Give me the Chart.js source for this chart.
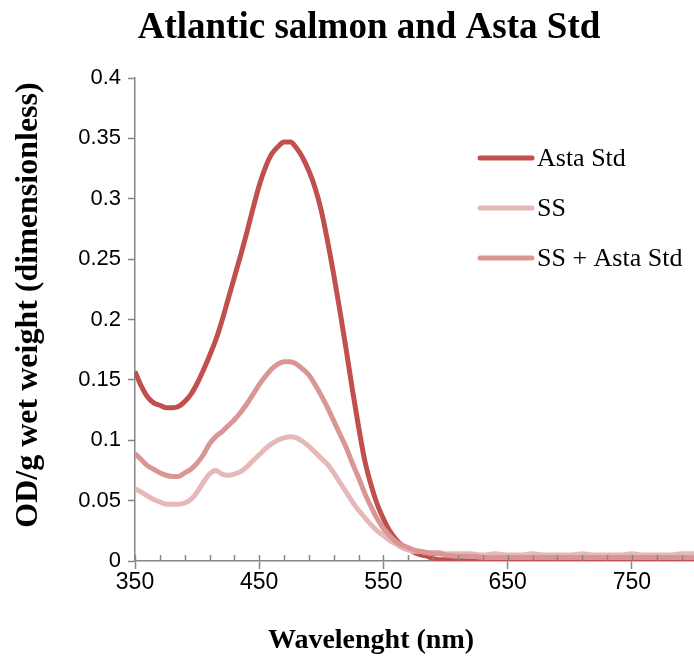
<!DOCTYPE html>
<html lang="en">
<head>
<meta charset="UTF-8">
<title>Atlantic salmon and Asta Std</title>
<script src="https://cdn.jsdelivr.net/npm/chart.js"></script>
<style>
    body {
        margin: 0;
        background: #fff;
        overflow: hidden;
    }
</style>
</head>
<body>
<canvas id="spectraChart" width="694" height="656"></canvas>

<script>
    // wavelength (nm), shared by all three spectra
    const wavelengths = [
        350, 355, 360, 365, 370, 375, 380, 385, 390, 395,
        400, 405, 410, 415, 420, 425, 430, 435, 440, 445,
        450, 455, 460, 465, 470, 475, 480, 485, 490, 495,
        500, 505, 510, 515, 520, 525, 530, 535, 540, 545,
        550, 555, 560, 565, 570, 575, 580, 585, 590, 595,
        600, 610, 620, 630, 640, 650, 660, 670, 680, 690,
        700, 710, 720, 730, 740, 750, 760, 770, 780, 790,
        800
    ];

    const astaStd = [
        0.157, 0.145, 0.136, 0.131, 0.129, 0.127, 0.127, 0.128, 0.132, 0.138,
        0.147, 0.158, 0.170, 0.183, 0.199, 0.217, 0.235, 0.253, 0.272, 0.292,
        0.311, 0.326, 0.337, 0.343, 0.347, 0.347, 0.342, 0.334, 0.323, 0.309,
        0.290, 0.265, 0.237, 0.207, 0.175, 0.142, 0.111, 0.083, 0.063, 0.047,
        0.035, 0.025, 0.018, 0.013, 0.010, 0.007, 0.005, 0.004, 0.002, 0.001,
        0.001, 0.001, 0.000, 0.000, 0.000, 0.000, 0.000, 0.000, 0.000, 0.000,
        0.000, 0.000, 0.000, 0.000, 0.000, 0.000, 0.000, 0.000, 0.000, 0.000,
        0.000
    ];

    const ss = [
        0.060, 0.057, 0.054, 0.051, 0.049, 0.047, 0.047, 0.047, 0.048, 0.051,
        0.057, 0.065, 0.072, 0.075, 0.072, 0.071, 0.072, 0.074, 0.078, 0.083,
        0.088, 0.093, 0.097, 0.100, 0.102, 0.103, 0.102, 0.099, 0.095, 0.090,
        0.085, 0.080, 0.073, 0.065, 0.057, 0.049, 0.042, 0.036, 0.030, 0.025,
        0.021, 0.017, 0.014, 0.011, 0.009, 0.008, 0.008, 0.007, 0.007, 0.007,
        0.006, 0.006, 0.006, 0.005, 0.006, 0.005, 0.005, 0.006, 0.005, 0.005,
        0.005, 0.006, 0.005, 0.005, 0.005, 0.006, 0.005, 0.005, 0.005, 0.006,
        0.006
    ];

    const ssAstaStd = [
        0.089, 0.084, 0.079, 0.076, 0.073, 0.071, 0.070, 0.070, 0.073, 0.076,
        0.081, 0.088, 0.097, 0.103, 0.107, 0.112, 0.117, 0.123, 0.130, 0.138,
        0.146, 0.153, 0.159, 0.163, 0.165, 0.165, 0.163, 0.159, 0.154, 0.146,
        0.137, 0.127, 0.116, 0.105, 0.094, 0.081, 0.069, 0.056, 0.045, 0.035,
        0.027, 0.021, 0.016, 0.013, 0.011, 0.009, 0.008, 0.007, 0.006, 0.006,
        0.005, 0.004, 0.004, 0.003, 0.003, 0.003, 0.003, 0.003, 0.003, 0.003,
        0.003, 0.003, 0.003, 0.003, 0.003, 0.003, 0.003, 0.003, 0.003, 0.003,
        0.003
    ];

    const seriesNames = ["Asta Std", "SS", "SS + Asta Std"];
    const seriesColors = ["#C0504D", "#E6B9B8", "#D99694"];

    const xTickValues = [350, 450, 550, 650, 750];
    const xMinorTicks = [350, 370, 390, 410, 430, 450, 470, 490, 510, 530, 550, 570, 590,
        610, 630, 650, 670, 690, 710, 730, 750, 770, 790];
    const yTickValues = [0, 0.05, 0.1, 0.15, 0.2, 0.25, 0.3, 0.35, 0.4];

    const chartTitle = "Atlantic salmon and Asta Std";
    const xAxisTitle = "Wavelenght (nm)";
    const yAxisTitle = "OD/g wet weight (dimensionless)";

    const axisGrey = "#868686";
    const serif = "'Liberation Serif', 'Times New Roman', serif";
    const sans = "'Liberation Sans', Arial, sans-serif";

    function toPoints(values) {
        return wavelengths.map((w, i) => ({ x: w, y: values[i] }));
    }

    // small ticks pointing into the plot, every 20 nm
    const minorTickPlugin = {
        id: "minorTicks",
        afterDraw(chart) {
            const ctx = chart.ctx;
            const xs = chart.scales.x;
            const y0 = chart.scales.y.getPixelForValue(0);
            ctx.save();
            ctx.strokeStyle = axisGrey;
            ctx.lineWidth = 1.5;
            xMinorTicks.forEach(v => {
                const px = Math.round(xs.getPixelForValue(v)) + 0.5;
                ctx.beginPath();
                ctx.moveTo(px, y0);
                ctx.lineTo(px, y0 - 6);
                ctx.stroke();
            });
            ctx.restore();
        }
    };

    // titles and the legend inside the plot
    const textPlugin = {
        id: "chartTexts",
        afterDraw(chart) {
            const ctx = chart.ctx;
            ctx.save();
            ctx.fillStyle = "#000";
            ctx.textAlign = "center";
            ctx.textBaseline = "alphabetic";
            ctx.font = "bold 37px " + serif;
            ctx.fillText(chartTitle, 369, 38);
            ctx.font = "bold 28px " + serif;
            ctx.fillText(xAxisTitle, 371, 648);

            // y axis title, rotated
            ctx.save();
            ctx.translate(29, 305);
            ctx.rotate(-Math.PI / 2);
            ctx.textBaseline = "middle";
            ctx.font = "bold 32px " + serif;
            ctx.fillText(yAxisTitle, 0, 0);
            ctx.restore();

            ctx.textAlign = "left";
            ctx.textBaseline = "middle";
            ctx.font = "26px " + serif;
            ctx.lineCap = "round";
            chart.data.datasets.forEach((ds, i) => {
                const y = 158 + i * 50;
                ctx.strokeStyle = ds.borderColor;
                ctx.lineWidth = 5;
                ctx.beginPath();
                ctx.moveTo(480, y);
                ctx.lineTo(532, y);
                ctx.stroke();
                ctx.fillText(ds.label, 537, y + 1);
            });
            ctx.restore();
        }
    };

    const ctx = document.getElementById("spectraChart").getContext("2d");
    new Chart(ctx, {
        type: "line",
        data: {
            datasets: [
                { label: seriesNames[0], data: toPoints(astaStd), borderColor: seriesColors[0], order: 3 },
                { label: seriesNames[1], data: toPoints(ss), borderColor: seriesColors[1], order: 2 },
                { label: seriesNames[2], data: toPoints(ssAstaStd), borderColor: seriesColors[2], order: 1 }
            ]
        },
        options: {
            responsive: false,
            animation: false,
            datasets: {
                line: {
                    borderWidth: 5,
                    pointRadius: 0,
                    fill: false,
                    cubicInterpolationMode: "monotone"
                }
            },
            layout: {
                padding: { top: 78, right: 0, bottom: 0, left: 0 }
            },
            plugins: {
                legend: { display: false },
                title: { display: false },
                tooltip: { enabled: false }
            },
            scales: {
                x: {
                    type: "linear",
                    min: 350,
                    max: 800,
                    afterBuildTicks: s => { s.ticks = xTickValues.map(v => ({ value: v })); },
                    afterFit: s => { s.height = 95; },
                    grid: {
                        drawOnChartArea: false,
                        tickLength: 8,
                        tickColor: axisGrey,
                        tickWidth: 1.5
                    },
                    border: { color: axisGrey, width: 1.5 },
                    ticks: {
                        color: "#000",
                        font: { family: sans, size: 23 },
                        padding: 0,
                        maxRotation: 0,
                        autoSkip: false
                    }
                },
                y: {
                    min: 0,
                    max: 0.4,
                    afterBuildTicks: s => { s.ticks = yTickValues.map(v => ({ value: v })); },
                    afterFit: s => { s.width = 135; },
                    grid: {
                        drawOnChartArea: false,
                        tickLength: 7,
                        tickColor: axisGrey,
                        tickWidth: 1.5
                    },
                    border: { color: axisGrey, width: 1.5 },
                    ticks: {
                        color: "#000",
                        font: { family: sans, size: 22 },
                        padding: 7,
                        callback: v => String(v)
                    }
                }
            }
        },
        plugins: [minorTickPlugin, textPlugin]
    });
</script>
</body>
</html>
